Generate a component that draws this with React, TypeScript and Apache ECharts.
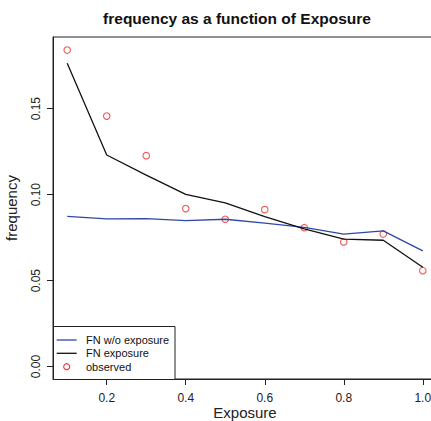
import React, { useEffect, useRef } from "react";
import * as echarts from "echarts";

const titleText = "frequency as a function of Exposure";
const xName = "Exposure";
const yName = "frequency";
const exposure = [0.1, 0.2, 0.3, 0.4, 0.5, 0.6, 0.7, 0.8, 0.9, 1.0];
const fnWithout = [0.0874, 0.0859, 0.0861, 0.0849, 0.0857, 0.0834, 0.081, 0.0771, 0.0789, 0.0673];
const fnExposure = [0.1764, 0.1231, 0.1114, 0.1002, 0.0952, 0.0872, 0.0801, 0.0741, 0.0735, 0.0578];
const observed = [0.1841, 0.1457, 0.1227, 0.0919, 0.0857, 0.0913, 0.0808, 0.0725, 0.0771, 0.0558];
const xTicks = [0.2, 0.4, 0.6, 0.8, 1.0];
const yTicks = [0, 0.05, 0.1, 0.15];
const seriesNames = ["FN w/o exposure", "FN exposure", "observed"];

const BLUE = "#2f47a8";
const BLACK = "#111111";
const RED = "#e8352c";
const FONT = "Liberation Sans, Arial, Helvetica, sans-serif";

export default function App() {
  const ref = useRef<HTMLDivElement>(null);
  useEffect(() => {
    if (!ref.current) return;
    const chart = echarts.init(ref.current, null, { renderer: "svg" });
    const pair = (ys: number[]) => exposure.map((x, i) => [x, ys[i]]);
    const legendX = 53;
    const legendY = 326;
    chart.setOption({
      animation: false,
      backgroundColor: "#ffffff",
      textStyle: { fontFamily: FONT },
      grid: {
        left: 53,
        top: 37,
        width: 384,
        height: 342,
        show: true,
        borderColor: "#222",
        borderWidth: 1,
        containLabel: false,
        outerBoundsMode: "none",
      },
      xAxis: {
        type: "value",
        min: 0.064,
        max: 1.036,
        name: xName,
        nameLocation: "middle",
        nameGap: 26,
        nameMoveOverlap: false,
        nameTextStyle: { fontSize: 15, color: "#222", fontFamily: FONT },
        axisLine: { show: true, onZero: false, lineStyle: { color: "#222", width: 1 } },
        axisTick: { show: true, length: 6, customValues: xTicks, lineStyle: { color: "#222" } },
        axisLabel: {
          customValues: xTicks,
          fontSize: 12,
          color: "#222",
          margin: 13,
          formatter: (v: number) => v.toFixed(1),
        },
        splitLine: { show: false },
      },
      yAxis: {
        type: "value",
        min: -0.0072,
        max: 0.1917,
        name: yName,
        nameLocation: "middle",
        nameGap: 34,
        nameRotate: 90,
        nameMoveOverlap: false,
        nameTextStyle: { fontSize: 15, color: "#222", fontFamily: FONT },
        axisLine: { show: true, onZero: false, lineStyle: { color: "#222", width: 1 } },
        axisTick: { show: true, length: 6, customValues: yTicks, lineStyle: { color: "#222" } },
        axisLabel: {
          customValues: yTicks,
          fontSize: 12,
          color: "#222",
          margin: 11,
          rotate: 90,
          formatter: (v: number) => v.toFixed(2),
        },
        splitLine: { show: false },
      },
      series: [
        {
          name: seriesNames[0],
          type: "line",
          data: pair(fnWithout),
          symbol: "none",
          lineStyle: { color: BLUE, width: 1.3 },
          itemStyle: { color: BLUE },
        },
        {
          name: seriesNames[1],
          type: "line",
          data: pair(fnExposure),
          symbol: "none",
          lineStyle: { color: BLACK, width: 1.3 },
          itemStyle: { color: BLACK },
        },
        {
          name: seriesNames[2],
          type: "scatter",
          data: pair(observed),
          symbol: "circle",
          symbolSize: 6.5,
          itemStyle: { color: "transparent", borderColor: RED, borderWidth: 1.1 },
        },
      ],
      graphic: [
        {
          type: "text",
          x: 237,
          y: 18,
          style: {
            text: titleText,
            textAlign: "center",
            textVerticalAlign: "middle",
            fontSize: 15.5,
            fontWeight: "bold",
            fontFamily: FONT,
            fill: "#111",
          },
        },
        {
          type: "rect",
          z: 10,
          shape: { x: legendX + 0.5, y: legendY + 0.5, width: 121.5, height: 53 },
          style: { stroke: "#222", fill: "#fff", lineWidth: 1 },
        },
        {
          type: "line",
          z: 11,
          shape: { x1: 56.7, y1: 340, x2: 76.7, y2: 340 },
          style: { stroke: BLUE, lineWidth: 1.3 },
        },
        {
          type: "line",
          z: 11,
          shape: { x1: 56.7, y1: 353.3, x2: 76.7, y2: 353.3 },
          style: { stroke: BLACK, lineWidth: 1.3 },
        },
        {
          type: "circle",
          z: 11,
          shape: { cx: 66.7, cy: 366.7, r: 3 },
          style: { stroke: RED, fill: "transparent", lineWidth: 1.1 },
        },
        ...seriesNames.map((n, i) => ({
          type: "text",
          z: 11,
          x: 86,
          y: 340 + i * 13.3,
          style: {
            text: n,
            textVerticalAlign: "middle",
            fontSize: 11,
            fontFamily: FONT,
            fill: "#111",
          },
        })),
      ],
    });
    return () => chart.dispose();
  }, []);
  return (
    <div
      style={{
        position: "fixed",
        left: 0,
        top: 0,
        width: 431,
        height: 421,
        overflow: "hidden",
        background: "#fff",
      }}
    >
      <div ref={ref} style={{ width: 440, height: 421 }} />
    </div>
  );
}
